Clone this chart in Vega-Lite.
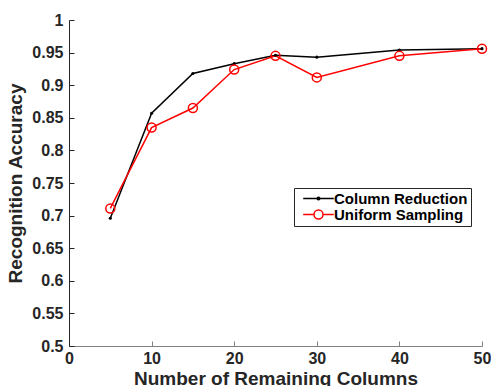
{
  "$schema": "https://vega.github.io/schema/vega-lite/v6.json",
  "width": 413,
  "height": 326,
  "autosize": "none",
  "padding": {"left": 69, "top": 20, "right": 9, "bottom": 40},
  "background": "white",
  "config": {
    "view": {"stroke": null},
    "font": "Liberation Sans",
    "axis": {
      "grid": false,
      "labelFont": "Liberation Sans",
      "labelFontWeight": "bold",
      "labelFontSize": 16,
      "labelColor": "#262626",
      "titleFont": "Liberation Sans",
      "titleFontWeight": "bold",
      "titleFontSize": 19,
      "titleColor": "#262626",
      "tickSize": -5,
      "domainWidth": 1,
      "tickWidth": 1
    },
    "axisX": {"domainColor": "#808080", "tickColor": "#808080", "labelPadding": 9, "titlePadding": 3, "labelFlush": false},
    "axisY": {"domainColor": "#262626", "tickColor": "#262626", "labelPadding": 11, "titlePadding": 6}
  },
  "data": {
    "values": [
      {"columns": 5, "accuracy": 0.696, "series": "Column Reduction"},
      {"columns": 10, "accuracy": 0.857, "series": "Column Reduction"},
      {"columns": 15, "accuracy": 0.918, "series": "Column Reduction"},
      {"columns": 20, "accuracy": 0.933, "series": "Column Reduction"},
      {"columns": 25, "accuracy": 0.946, "series": "Column Reduction"},
      {"columns": 30, "accuracy": 0.943, "series": "Column Reduction"},
      {"columns": 40, "accuracy": 0.954, "series": "Column Reduction"},
      {"columns": 50, "accuracy": 0.956, "series": "Column Reduction"},
      {"columns": 5, "accuracy": 0.711, "series": "Uniform Sampling"},
      {"columns": 10, "accuracy": 0.835, "series": "Uniform Sampling"},
      {"columns": 15, "accuracy": 0.865, "series": "Uniform Sampling"},
      {"columns": 20, "accuracy": 0.924, "series": "Uniform Sampling"},
      {"columns": 25, "accuracy": 0.945, "series": "Uniform Sampling"},
      {"columns": 30, "accuracy": 0.912, "series": "Uniform Sampling"},
      {"columns": 40, "accuracy": 0.945, "series": "Uniform Sampling"},
      {"columns": 50, "accuracy": 0.956, "series": "Uniform Sampling"}
    ]
  },
  "encoding": {
    "x": {
      "field": "columns",
      "type": "quantitative",
      "scale": {"domain": [0, 50], "nice": false, "zero": false},
      "axis": {"title": "Number of Remaining Columns", "values": [0, 10, 20, 30, 40, 50]}
    },
    "y": {
      "field": "accuracy",
      "type": "quantitative",
      "scale": {"domain": [0.5, 1], "nice": false, "zero": false},
      "axis": {"title": "Recognition Accuracy", "values": [0.5, 0.55, 0.6, 0.65, 0.7, 0.75, 0.8, 0.85, 0.9, 0.95, 1], "format": "~g"}
    }
  },
  "layer": [
    {
      "mark": {"type": "line", "strokeWidth": 1.5},
      "encoding": {
        "color": {
          "field": "series",
          "type": "nominal",
          "scale": {"domain": ["Column Reduction", "Uniform Sampling"], "range": ["#000000", "#ff0000"]},
          "legend": {
            "title": null,
            "orient": "none",
            "legendX": 225,
            "legendY": 168,
            "strokeColor": "#262626",
            "fillColor": "white",
            "padding": 3,
            "labelFont": "Liberation Sans",
            "labelFontWeight": "bold",
            "labelFontSize": 15,
            "labelColor": "#000000",
            "symbolOffset": 14,
            "labelOffset": 8,
            "symbolSize": 81,
            "symbolStrokeWidth": 1.5,
            "rowPadding": 0,
            "encode": {
              "symbols": {
                "update": {
                  "shape": {"signal": "datum.value === 'Uniform Sampling' ? 'M-3.4,0H-1M1,0H3.4M-1,0A1,1 0 1,1 1,0A1,1 0 1,1 -1,0' : 'M-3.4,0H3.4M-0.3,0A0.3,0.3 0 1,1 0.3,0A0.3,0.3 0 1,1 -0.3,0'"},
                  "fill": {"value": "transparent"}
                }
              }
            }
          }
        }
      }
    },
    {
      "transform": [{"filter": "datum.series === 'Column Reduction'"}],
      "mark": {"type": "point", "shape": "circle", "filled": true, "size": 10, "color": "#000000", "opacity": 1}
    },
    {
      "transform": [{"filter": "datum.series === 'Uniform Sampling'"}],
      "mark": {"type": "point", "shape": "circle", "filled": false, "size": 81, "color": "#ff0000", "strokeWidth": 1.5, "opacity": 1}
    }
  ]
}
